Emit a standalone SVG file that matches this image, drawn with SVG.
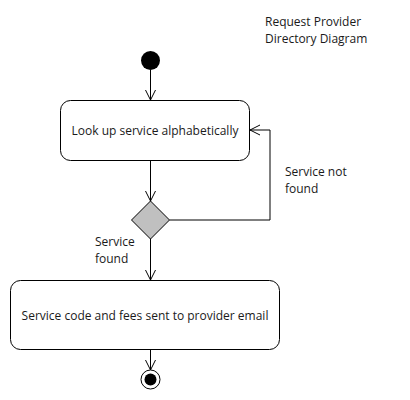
<svg xmlns="http://www.w3.org/2000/svg" width="410" height="400" viewBox="0 0 410 400">
<style>
text{font-family:"Open Sans","DejaVu Sans",sans-serif;font-size:12px;fill:#1a1a1a}
.node{fill:#fff;stroke:#000;stroke-width:1}
.edge{fill:none;stroke:#000;stroke-width:1}
</style>
<defs>
<marker id="open" markerWidth="12" markerHeight="12" refX="11" refY="6" orient="auto" markerUnits="userSpaceOnUse">
<path d="M1,1 L11,6 L1,11" fill="none" stroke="#000" stroke-width="1"/>
</marker>
</defs>
<rect width="410" height="400" fill="#fff"/>
<g id="title">
<text x="265" y="26.3">Request Provider<tspan x="265" dy="16.5">Directory Diagram</tspan></text>
</g>
<g id="edges">
<path class="edge" d="M150.5,70 L150.5,100" marker-end="url(#open)"/>
<path class="edge" d="M150.5,160 L150.5,201" marker-end="url(#open)"/>
<path class="edge" d="M169.5,220 L270,220 L270,130 L250,130" marker-end="url(#open)"/>
<path class="edge" d="M150.5,239 L150.5,280" marker-end="url(#open)"/>
<path class="edge" d="M150.5,350 L150.5,370" marker-end="url(#open)"/>
<text x="285" y="176.3">Service not<tspan x="285" dy="16.5">found</tspan></text>
<text x="95" y="246.3">Service<tspan x="95" dy="16.5">found</tspan></text>
</g>
<g id="start">
<circle cx="150.5" cy="60.5" r="9.5" fill="#000"/>
</g>
<g id="lookup">
<rect class="node" x="60.5" y="100.5" width="189" height="60" rx="10"/>
<text x="155" y="135" text-anchor="middle">Look up service alphabetically</text>
</g>
<g id="decision">
<polygon points="150.5,201 169.5,220 150.5,239 131.5,220" fill="#c0c0c0" stroke="#000" stroke-width="1"/>
</g>
<g id="send">
<rect class="node" x="10.5" y="280.5" width="269" height="69" rx="10"/>
<text x="145" y="320" text-anchor="middle">Service code and fees sent to provider email</text>
</g>
<g id="end">
<circle cx="150.5" cy="379.5" r="9.5" fill="#fff" stroke="#000" stroke-width="1"/>
<circle cx="150.5" cy="379.5" r="6" fill="#000"/>
</g>
</svg>
